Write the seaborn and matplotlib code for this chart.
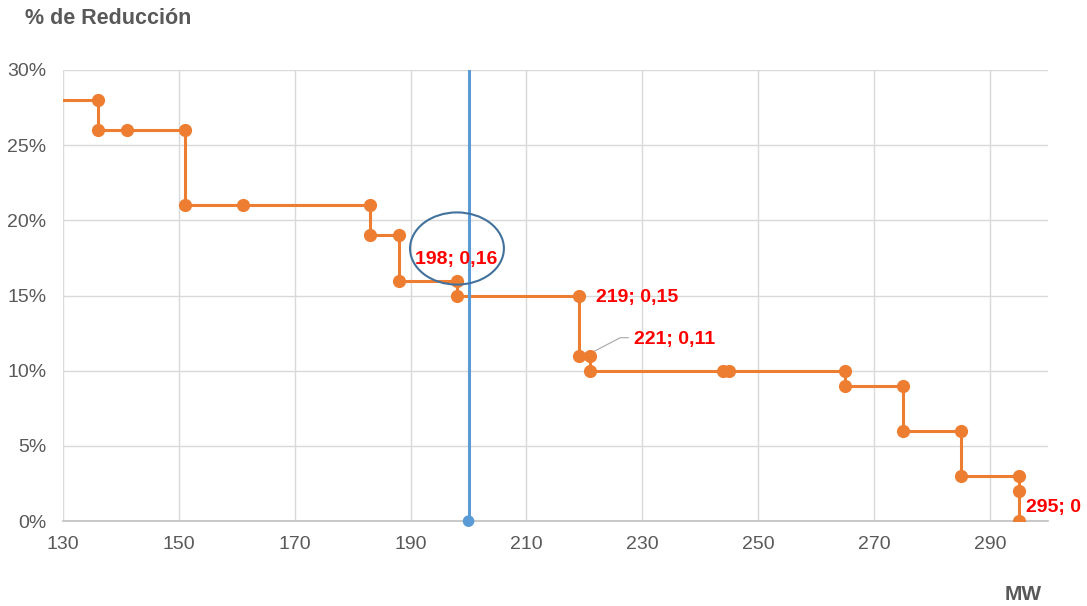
import matplotlib
matplotlib.use("Agg")
import matplotlib.pyplot as plt
from matplotlib.patches import Ellipse
from matplotlib.ticker import PercentFormatter
import seaborn as sns
import pandas as pd

# Data (step curve corners)
mw = [128, 136, 136, 141, 151, 151, 161, 183, 183, 188, 188, 198, 198, 219, 219,
      221, 221, 244, 245, 265, 265, 275, 275, 285, 285, 295, 295, 295]
reduction = [0.28, 0.28, 0.26, 0.26, 0.26, 0.21, 0.21, 0.21, 0.19, 0.19, 0.16, 0.16, 0.15, 0.15, 0.11,
             0.11, 0.10, 0.10, 0.10, 0.10, 0.09, 0.09, 0.06, 0.06, 0.03, 0.03, 0.02, 0.0]
ref_mw = [200, 200]
ref_y = [0.0, 0.30]
labels = ["198; 0,16", "219; 0,15", "221; 0,11", "295; 0"]
label_x = [198, 219, 221, 295]
label_y = [0.16, 0.15, 0.11, 0.0]
xticks = [130, 150, 170, 190, 210, 230, 250, 270, 290]

sns.set_theme(style="white")
plt.rcParams['font.family'] = ['Liberation Sans', 'DejaVu Sans']

fig = plt.figure(figsize=(10.87, 6.06), dpi=100)
ax = fig.add_axes([0.058, 0.140, 0.906, 0.7445])

df = pd.DataFrame({"MW": mw, "red": reduction})
sns.lineplot(data=df, x="MW", y="red", sort=False, estimator=None, ax=ax,
             color="#ED7D31", linewidth=2.2, marker="o", markersize=9.5,
             markeredgewidth=0, zorder=3)

dref = pd.DataFrame({"MW": ref_mw, "y": ref_y})
sns.lineplot(data=dref, x="MW", y="y", sort=False, estimator=None, ax=ax,
             color="#5B9BD5", linewidth=2.2, zorder=4)
sns.scatterplot(x=[ref_mw[0]], y=[ref_y[0]], ax=ax, color="#5B9BD5", s=70,
                edgecolor="none", zorder=5, clip_on=False)

ax.set_xlim(130, 300)
ax.set_ylim(0, 0.30)
ax.set_xticks(xticks)
ax.set_yticks([0, 0.05, 0.10, 0.15, 0.20, 0.25, 0.30])
ax.yaxis.set_major_formatter(PercentFormatter(1.0, decimals=0))
ax.grid(True, color="#D9D9D9", linewidth=1)
ax.set_axisbelow(True)
for s in ["top", "right", "left"]:
    ax.spines[s].set_visible(False)
ax.spines["bottom"].set_color("#BFBFBF")
ax.spines["bottom"].set_linewidth(1.2)
ax.tick_params(axis="both", length=0, labelsize=14, labelcolor="#595959")
ax.tick_params(axis="x", pad=10.5)
ax.tick_params(axis="y", pad=12)
ax.set_xlabel("")
ax.set_ylabel("")

# Ellipse highlight
ell = Ellipse((198.0, 0.1813), width=16.2, height=0.048, fill=False,
              edgecolor="#41719C", linewidth=1.5, zorder=6)
ax.add_patch(ell)

red = "#FF0000"
ax.text(label_x[0] - 7.2, label_y[0] + 0.014, labels[0], color=red, fontsize=14,
        fontweight="bold", ha="left", va="center", zorder=7)
ax.text(label_x[1] + 3, label_y[1] - 0.001, labels[1], color=red, fontsize=14,
        fontweight="bold", ha="left", va="center", zorder=7)
ax.text(label_x[2] + 7.5, label_y[2] + 0.0107, labels[2], color=red, fontsize=14,
        fontweight="bold", ha="left", va="center", zorder=7)
ax.plot([label_x[2] + 0.2, label_x[2] + 5.2, label_x[2] + 6.6],
        [label_y[2] + 0.002, label_y[2] + 0.012, label_y[2] + 0.012],
        color="#A6A6A6", linewidth=0.8, zorder=2)
ax.text(label_x[3] + 1.3, label_y[3] + 0.009, labels[3], color=red, fontsize=14,
        fontweight="bold", ha="left", va="center", zorder=7, clip_on=False)

fig.text(25 / 1087, 1 - 18 / 606, "% de Reducción", color="#595959", fontsize=15.5,
         fontweight="bold", ha="left", va="center")
fig.text(1042 / 1087, 1 - 595 / 606, "MW", color="#595959", fontsize=15,
         fontweight="bold", ha="right", va="center")

fig.savefig("out.png", dpi=100, facecolor="white")
